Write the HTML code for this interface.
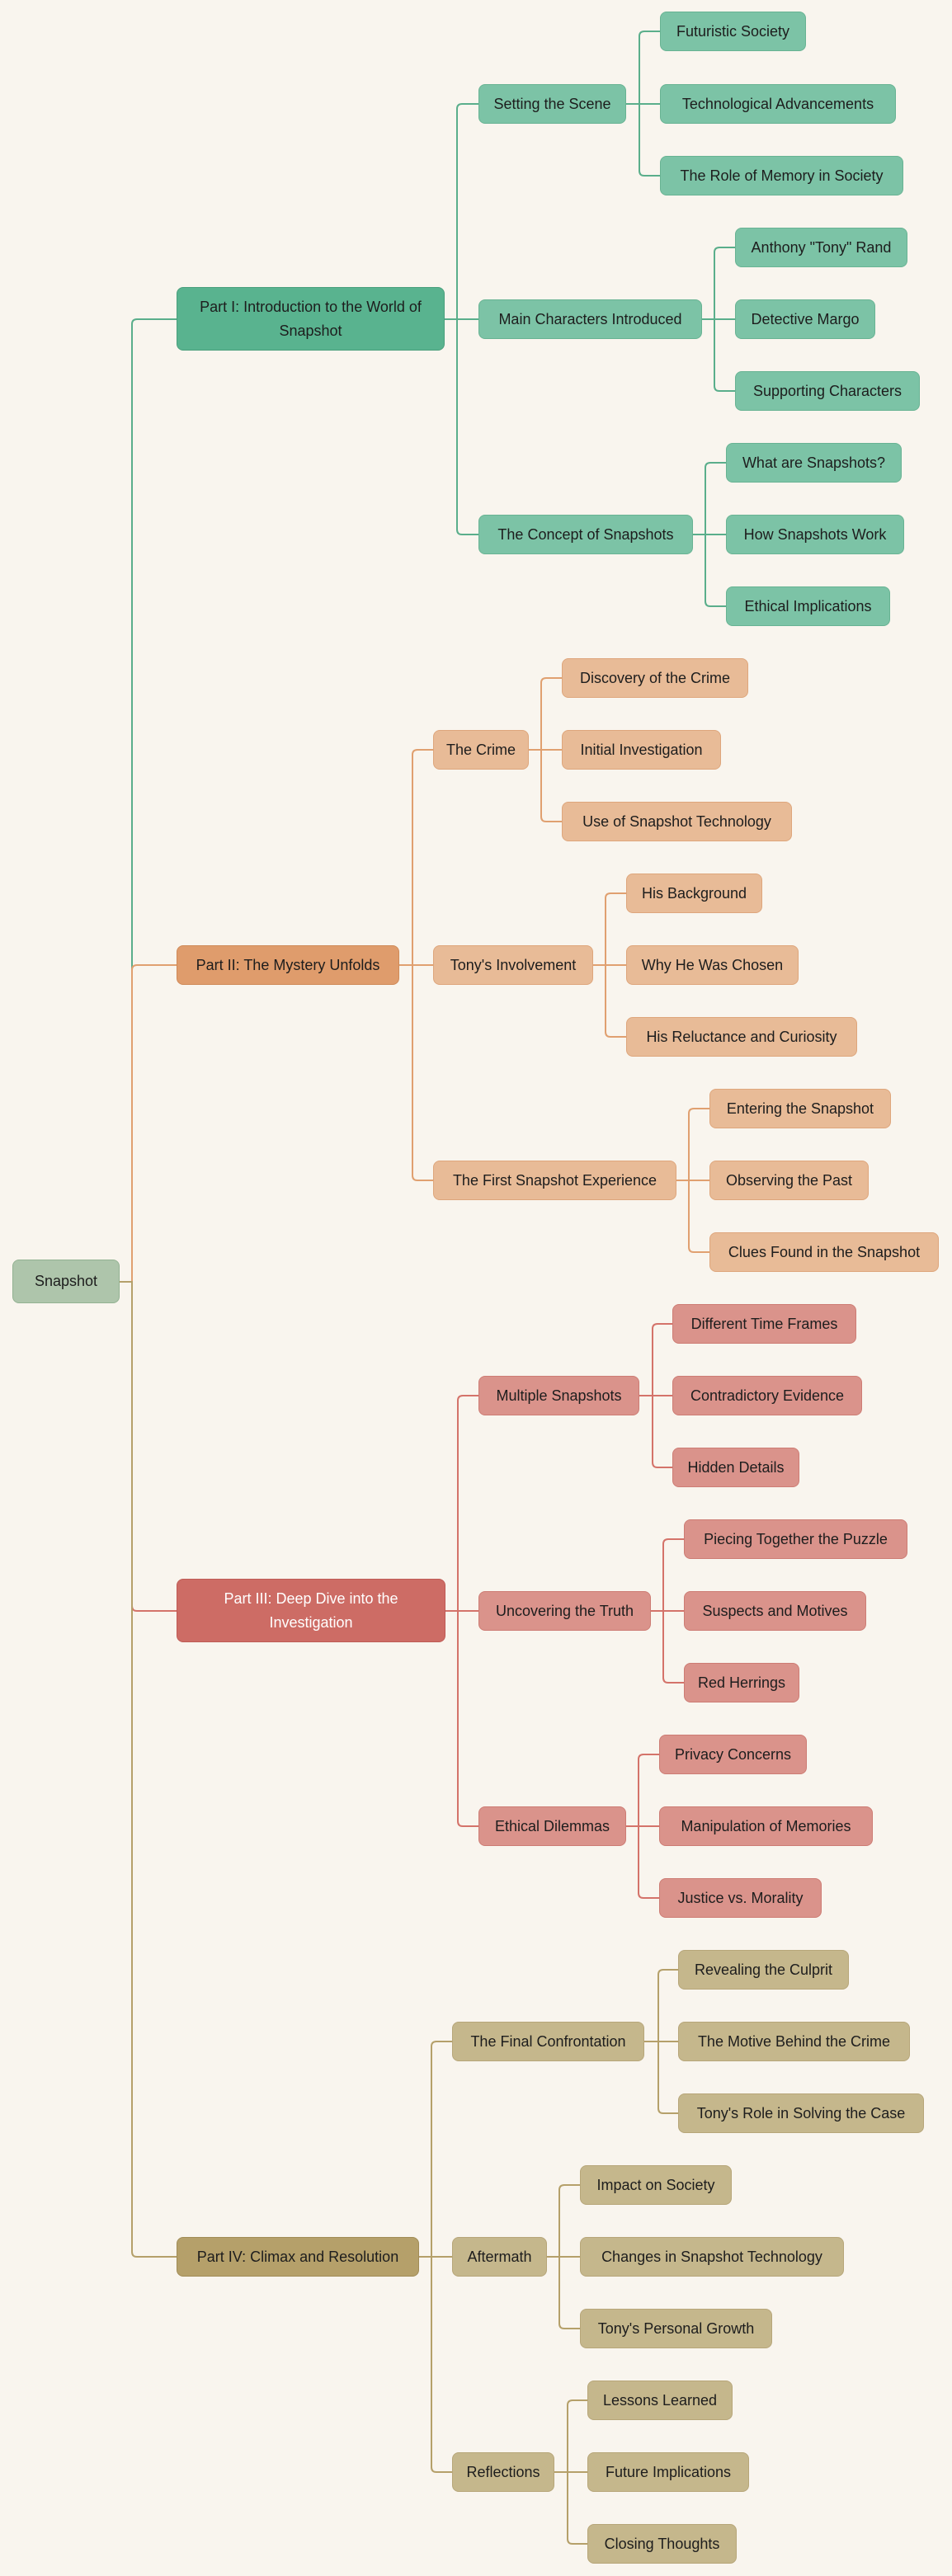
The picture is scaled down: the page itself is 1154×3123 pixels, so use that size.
<!DOCTYPE html>
<html><head><meta charset="utf-8"><style>
html,body{margin:0;padding:0;}
body{width:1154px;height:3123px;background:#f9f5ee;position:relative;overflow:hidden;font-family:"Liberation Sans",Arial,sans-serif;}
svg{position:absolute;left:0;top:0;}
.n{position:absolute;box-sizing:border-box;border-radius:8px;border:1px solid;display:flex;align-items:center;justify-content:center;text-align:center;font-size:18px;color:#1d1d1d;white-space:nowrap;height:48px;line-height:29px;}
.root{background:#aec5ab;border-color:#93b292;}
.g1{background:#59b38f;border-color:#4a9f7c;}
.g2{background:#7cc3a6;border-color:#68b393;}
.o1{background:#df9c6c;border-color:#cf8a58;}
.o2{background:#e8bb97;border-color:#dea67c;}
.r1{background:#cd6c65;border-color:#bf5b55;color:#fff;}
.r2{background:#da938b;border-color:#cd7c74;}
.y1{background:#b5a06a;border-color:#a18c57;}
.y2{background:#c5b78c;border-color:#b7a679;}
.tall{height:77px;white-space:normal;padding:0 12px;}
</style></head><body>
<svg width="1154" height="3123" fill="none" stroke-width="2">
<g stroke="#5aae8b">
<path d="M145 1554H160V393Q160 387 166 387H214"/>
<path d="M539 387H554V132Q554 126 560 126H580M539 387H580M539 387H554V642Q554 648 560 648H580"/>
<path d="M759 126H775V44Q775 38 781 38H800M759 126H800M759 126H775V207Q775 213 781 213H800"/>
<path d="M851 387H866V306Q866 300 872 300H891M851 387H891M851 387H866V468Q866 474 872 474H891"/>
<path d="M840 648H855V567Q855 561 861 561H880M840 648H880M840 648H855V729Q855 735 861 735H880"/>
</g>
<g stroke="#d4736a">
<path d="M145 1554H160V1947Q160 1953 166 1953H214"/>
<path d="M540 1953H555V1698Q555 1692 561 1692H580M540 1953H580M540 1953H555V2208Q555 2214 561 2214H580"/>
<path d="M775 1692H791V1611Q791 1605 797 1605H815M775 1692H815M775 1692H791V1773Q791 1779 797 1779H815"/>
<path d="M789 1953H804V1872Q804 1866 810 1866H829M789 1953H829M789 1953H804V2034Q804 2040 810 2040H829"/>
<path d="M759 2214H774V2133Q774 2127 780 2127H799M759 2214H799M759 2214H774V2295Q774 2301 780 2301H799"/>
</g>
<g stroke="#e0a070">
<path d="M145 1554H160V1176Q160 1170 166 1170H214"/>
<path d="M484 1170H500V915Q500 909 506 909H525M484 1170H525M484 1170H500V1425Q500 1431 506 1431H525"/>
<path d="M641 909H656V828Q656 822 662 822H681M641 909H681M641 909H656V990Q656 996 662 996H681"/>
<path d="M719 1170H734V1089Q734 1083 740 1083H759M719 1170H759M719 1170H734V1251Q734 1257 740 1257H759"/>
<path d="M820 1431H835V1350Q835 1344 841 1344H860M820 1431H860M820 1431H835V1512Q835 1518 841 1518H860"/>
</g>
<g stroke="#b5a06a">
<path d="M145 1554H160V2730Q160 2736 166 2736H214"/>
<path d="M508 2736H523V2481Q523 2475 529 2475H548M508 2736H548M508 2736H523V2991Q523 2997 529 2997H548"/>
<path d="M781 2475H798V2394Q798 2388 804 2388H822M781 2475H822M781 2475H798V2556Q798 2562 804 2562H822"/>
<path d="M663 2736H678V2655Q678 2649 684 2649H703M663 2736H703M663 2736H678V2817Q678 2823 684 2823H703"/>
<path d="M672 2997H688V2916Q688 2910 694 2910H712M672 2997H712M672 2997H688V3078Q688 3084 694 3084H712"/>
</g>
</svg>

<div class="n root" style="left:15px;top:1527px;width:130px;height:53px;">Snapshot</div>

<div class="n g1 tall" style="left:214px;top:348px;width:325px;">Part I: Introduction to the World of Snapshot</div>
<div class="n g2" style="left:580px;top:102px;width:179px;">Setting the Scene</div>
<div class="n g2" style="left:800px;top:14px;width:177px;">Futuristic Society</div>
<div class="n g2" style="left:800px;top:102px;width:286px;">Technological Advancements</div>
<div class="n g2" style="left:800px;top:189px;width:295px;">The Role of Memory in Society</div>
<div class="n g2" style="left:580px;top:363px;width:271px;">Main Characters Introduced</div>
<div class="n g2" style="left:891px;top:276px;width:209px;">Anthony "Tony" Rand</div>
<div class="n g2" style="left:891px;top:363px;width:170px;">Detective Margo</div>
<div class="n g2" style="left:891px;top:450px;width:224px;">Supporting Characters</div>
<div class="n g2" style="left:580px;top:624px;width:260px;">The Concept of Snapshots</div>
<div class="n g2" style="left:880px;top:537px;width:213px;">What are Snapshots?</div>
<div class="n g2" style="left:880px;top:624px;width:216px;">How Snapshots Work</div>
<div class="n g2" style="left:880px;top:711px;width:199px;">Ethical Implications</div>

<div class="n o1" style="left:214px;top:1146px;width:270px;">Part II: The Mystery Unfolds</div>
<div class="n o2" style="left:525px;top:885px;width:116px;">The Crime</div>
<div class="n o2" style="left:681px;top:798px;width:226px;">Discovery of the Crime</div>
<div class="n o2" style="left:681px;top:885px;width:193px;">Initial Investigation</div>
<div class="n o2" style="left:681px;top:972px;width:279px;">Use of Snapshot Technology</div>
<div class="n o2" style="left:525px;top:1146px;width:194px;">Tony's Involvement</div>
<div class="n o2" style="left:759px;top:1059px;width:165px;">His Background</div>
<div class="n o2" style="left:759px;top:1146px;width:209px;">Why He Was Chosen</div>
<div class="n o2" style="left:759px;top:1233px;width:280px;">His Reluctance and Curiosity</div>
<div class="n o2" style="left:525px;top:1407px;width:295px;">The First Snapshot Experience</div>
<div class="n o2" style="left:860px;top:1320px;width:220px;">Entering the Snapshot</div>
<div class="n o2" style="left:860px;top:1407px;width:193px;">Observing the Past</div>
<div class="n o2" style="left:860px;top:1494px;width:278px;">Clues Found in the Snapshot</div>

<div class="n r1 tall" style="left:214px;top:1914px;width:326px;">Part III: Deep Dive into the<br>Investigation</div>
<div class="n r2" style="left:580px;top:1668px;width:195px;">Multiple Snapshots</div>
<div class="n r2" style="left:815px;top:1581px;width:223px;">Different Time Frames</div>
<div class="n r2" style="left:815px;top:1668px;width:230px;">Contradictory Evidence</div>
<div class="n r2" style="left:815px;top:1755px;width:154px;">Hidden Details</div>
<div class="n r2" style="left:580px;top:1929px;width:209px;">Uncovering the Truth</div>
<div class="n r2" style="left:829px;top:1842px;width:271px;">Piecing Together the Puzzle</div>
<div class="n r2" style="left:829px;top:1929px;width:221px;">Suspects and Motives</div>
<div class="n r2" style="left:829px;top:2016px;width:140px;">Red Herrings</div>
<div class="n r2" style="left:580px;top:2190px;width:179px;">Ethical Dilemmas</div>
<div class="n r2" style="left:799px;top:2103px;width:179px;">Privacy Concerns</div>
<div class="n r2" style="left:799px;top:2190px;width:259px;">Manipulation of Memories</div>
<div class="n r2" style="left:799px;top:2277px;width:197px;">Justice vs. Morality</div>

<div class="n y1" style="left:214px;top:2712px;width:294px;">Part IV: Climax and Resolution</div>
<div class="n y2" style="left:548px;top:2451px;width:233px;">The Final Confrontation</div>
<div class="n y2" style="left:822px;top:2364px;width:207px;">Revealing the Culprit</div>
<div class="n y2" style="left:822px;top:2451px;width:281px;">The Motive Behind the Crime</div>
<div class="n y2" style="left:822px;top:2538px;width:298px;">Tony's Role in Solving the Case</div>
<div class="n y2" style="left:548px;top:2712px;width:115px;">Aftermath</div>
<div class="n y2" style="left:703px;top:2625px;width:184px;">Impact on Society</div>
<div class="n y2" style="left:703px;top:2712px;width:320px;">Changes in Snapshot Technology</div>
<div class="n y2" style="left:703px;top:2799px;width:233px;">Tony's Personal Growth</div>
<div class="n y2" style="left:548px;top:2973px;width:124px;">Reflections</div>
<div class="n y2" style="left:712px;top:2886px;width:176px;">Lessons Learned</div>
<div class="n y2" style="left:712px;top:2973px;width:196px;">Future Implications</div>
<div class="n y2" style="left:712px;top:3060px;width:181px;">Closing Thoughts</div>
</body></html>
